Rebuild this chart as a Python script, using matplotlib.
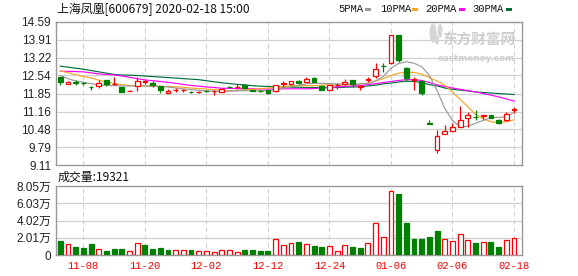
import matplotlib
matplotlib.use('Agg')
import matplotlib.pyplot as plt
from matplotlib.patches import Rectangle, Ellipse
import numpy as np

# ---------------- data ----------------
opens = [12.47, 12.22, 12.28, 12.25, 12.10, 12.12, 12.37, 12.20, 12.09, 11.95,
         12.15, 12.30, 12.26, 12.12, 11.88, 11.97, 11.99, 11.91, 11.91, 11.96,
         11.93, 11.92, 12.09, 12.10, 12.17, 11.98, 11.94, 11.98, 11.93, 12.23,
         12.22, 12.33, 12.30, 12.46, 12.15, 11.99, 12.18, 12.20, 12.37, 12.11,
         12.38, 12.52, 12.91, 13.00, 14.10, 12.84, 12.38, 12.31, 10.71, 9.67,
         10.28, 10.41, 10.57, 10.93, 10.96, 11.00, 11.01, 10.85, 10.82, 11.22]
highs = [12.47, 12.31, 12.35, 12.28, 12.15, 12.37, 12.38, 12.47, 12.10, 11.98,
         12.47, 12.37, 12.31, 12.13, 12.03, 12.05, 12.03, 11.95, 11.96, 11.99,
         11.97, 12.06, 12.12, 12.20, 12.17, 12.00, 11.98, 11.99, 12.19, 12.33,
         12.34, 12.36, 12.47, 12.48, 12.19, 12.18, 12.24, 12.41, 12.37, 12.19,
         12.48, 13.03, 13.00, 14.11, 14.11, 12.85, 12.49, 12.31, 10.85, 10.47,
         10.63, 10.71, 11.39, 11.14, 11.20, 11.01, 11.03, 10.86, 11.14, 11.33]
lows = [12.18, 12.22, 12.18, 12.18, 12.00, 12.07, 12.12, 12.19, 11.89, 11.93,
        11.96, 12.22, 12.09, 11.86, 11.87, 11.90, 11.92, 11.86, 11.88, 11.92,
        11.81, 11.90, 12.05, 12.01, 12.05, 11.93, 11.91, 11.85, 11.89, 12.08,
        12.16, 12.22, 12.29, 12.28, 11.97, 11.98, 12.04, 12.19, 12.11, 11.99,
        12.29, 12.43, 12.69, 12.99, 13.07, 12.31, 11.99, 11.81, 10.70, 9.58,
        10.28, 10.41, 10.57, 10.57, 10.85, 10.89, 10.90, 10.69, 10.78, 11.12]
closes = [12.28, 12.30, 12.27, 12.24, 12.09, 12.26, 12.22, 12.21, 11.90, 11.96,
          12.32, 12.31, 12.16, 11.99, 11.94, 11.98, 12.00, 11.90, 11.92, 11.95,
          11.96, 12.04, 12.08, 12.11, 12.07, 11.94, 11.93, 11.86, 12.18, 12.24,
          12.33, 12.27, 12.42, 12.30, 11.99, 12.18, 12.19, 12.29, 12.22, 12.12,
          12.39, 12.77, 12.90, 14.10, 13.13, 12.43, 12.39, 11.86, 10.70, 10.24,
          10.41, 10.57, 10.82, 11.01, 10.95, 11.01, 10.91, 10.73, 11.08, 11.25]
volumes = [1.63, 1.28, 0.93, 0.82, 1.28, 0.70, 0.51, 0.70, 0.70, 0.47,
           1.40, 1.17, 0.70, 0.82, 0.58, 0.58, 0.58, 0.58, 0.47, 0.47,
           0.31, 0.58, 0.58, 0.31, 0.58, 0.58, 0.47, 0.47, 1.83, 1.13,
           1.40, 1.52, 1.28, 1.05, 0.93, 1.05, 0.47, 1.13, 0.93, 0.82,
           1.40, 3.73, 2.06, 7.47, 7.12, 3.77, 1.87, 1.87, 2.10, 2.80,
           1.87, 1.63, 2.45, 1.75, 1.40, 1.52, 1.52, 0.93, 1.75, 1.93]
ma5 = [12.54, 12.42, 12.33, 12.28, 12.23, 12.18, 12.16, 12.15, 12.14, 12.14,
       12.14, 12.14, 12.14, 12.12, 12.10, 12.06, 12.03, 12.00, 11.97, 11.95,
       11.93, 11.93, 11.94, 11.95, 11.96, 11.96, 11.95, 11.96, 12.00, 12.06,
       12.10, 12.16, 12.22, 12.24, 12.24, 12.23, 12.21, 12.21, 12.21, 12.21,
       12.24, 12.33, 12.50, 12.82, 13.00, 13.07, 13.01, 12.88, 12.54, 11.96,
       11.28, 10.82, 10.57, 10.59, 10.71, 10.82, 10.92, 10.94, 10.95, 11.13]
ma10 = [12.71, 12.65, 12.57, 12.50, 12.45, 12.36, 12.29, 12.23, 12.19, 12.16,
        12.14, 12.14, 12.13, 12.12, 12.12, 12.11, 12.09, 12.06, 12.04, 12.02,
        12.00, 11.97, 11.96, 11.97, 11.99, 12.01, 12.03, 12.06, 12.08, 12.12,
        12.15, 12.15, 12.15, 12.15, 12.17, 12.18, 12.18, 12.18, 12.19, 12.21,
        12.25, 12.33, 12.42, 12.54, 12.63, 12.66, 12.66, 12.59, 12.46, 12.33,
        12.17, 11.91, 11.62, 11.34, 11.05, 10.88, 10.77, 10.73, 10.77, 10.84]
ma20 = [12.70, 12.70, 12.69, 12.68, 12.64, 12.60, 12.58, 12.56, 12.52, 12.47,
        12.42, 12.37, 12.34, 12.31, 12.28, 12.24, 12.20, 12.16, 12.13, 12.10,
        12.08, 12.05, 12.05, 12.04, 12.03, 12.03, 12.02, 12.02, 12.02, 12.03,
        12.03, 12.03, 12.03, 12.04, 12.06, 12.08, 12.10, 12.12, 12.14, 12.15,
        12.19, 12.23, 12.27, 12.31, 12.35, 12.38, 12.38, 12.35, 12.27, 12.18,
        12.12, 12.06, 12.01, 11.96, 11.91, 11.85, 11.79, 11.72, 11.64, 11.56]
ma30 = [12.90, 12.86, 12.82, 12.78, 12.73, 12.68, 12.63, 12.58, 12.56, 12.55,
        12.54, 12.52, 12.50, 12.48, 12.46, 12.44, 12.42, 12.40, 12.38, 12.34,
        12.30, 12.26, 12.23, 12.20, 12.18, 12.15, 12.13, 12.12, 12.11, 12.10,
        12.09, 12.09, 12.08, 12.08, 12.08, 12.08, 12.08, 12.09, 12.10, 12.11,
        12.14, 12.17, 12.22, 12.25, 12.29, 12.32, 12.31, 12.27, 12.19, 12.14,
        12.06, 12.01, 11.98, 11.95, 11.91, 11.89, 11.87, 11.85, 11.83, 11.81]
date_tick_idx = [3, 11, 19, 27, 35, 43, 51, 59]
date_labels = ['11-08', '11-20', '12-02', '12-12', '12-24', '01-06', '02-06', '02-18']
price_ticks = [9.11, 9.79, 10.48, 11.16, 11.85, 12.54, 13.22, 13.91, 14.59]
vol_ticks = [0, 2.01, 4.02, 6.03, 8.05]
vol_tick_labels = ['0', '2.01万', '4.02万', '6.03万', '8.05万']
title_text = '上海凤凰[600679] 2020-02-18 15:00'
vol_title = '成交量:19321'
legend_names = ['5PMA', '10PMA', '20PMA', '30PMA']

# ---------------- style ----------------
RED = '#ff0000'
GREEN = '#008000'
MA_COLORS = ['#999999', '#f5a623', '#ff00ff', '#00703a']
FRAME = '#999999'
GRID = '#d0d0d0'
CJK = ['Noto Sans CJK SC', 'DejaVu Sans']
NUMF = ['Liberation Sans', 'Noto Sans CJK SC']

W, H = 578, 276
fig = plt.figure(figsize=(W / 100, H / 100), dpi=100)
fig.patch.set_facecolor('white')

def fx(px):
    return px / W

def fy(py):
    return 1 - py / H

L, R = 56, 522
ax = fig.add_axes([fx(L), fy(165), fx(R - L), (165 - 22) / H])
axv = fig.add_axes([fx(L), fy(255), fx(R - L), (255 - 186) / H])

n = len(closes)
x = np.arange(n)
xlim = (-0.56, 60.04)

for a in (ax, axv):
    a.set_xlim(*xlim)
    for s in a.spines.values():
        s.set_color(FRAME)
        s.set_linewidth(1.0)
    a.tick_params(length=0)
    for xi in date_tick_idx:
        a.axvline(xi, color=GRID, lw=0.8, ls=(0, (4, 3)), zorder=0)

# main price axes
ax.set_ylim(price_ticks[0], price_ticks[-1])
ax.set_yticks(price_ticks)
ax.set_yticklabels([f'{t:.2f}' for t in price_ticks], family=NUMF, fontsize=8.5, color='#222222')
ax.set_xticks([])
for t in price_ticks[1:-1]:
    ax.axhline(t, color=GRID, lw=0.9, zorder=0)

# watermark
ax.text(0.985, 0.875, '东方财富网', transform=ax.transAxes, ha='right', va='center',
        family=CJK, fontsize=10.5, fontweight='bold', color='#cfcfcf', zorder=1)
ax.text(0.985, 0.745, 'eastmoney.com', transform=ax.transAxes, ha='right', va='center',
        family=['DejaVu Sans'], fontsize=6.3, fontweight='bold', color='#cfcfcf', zorder=1)
for cx, cy, w, h, ang in [(433, 33, 7, 20, -35), (440, 31, 5, 14, -35), (437, 40, 4, 9, -10)]:
    fig.patches.append(Ellipse((fx(cx), fy(cy)), fx(w), h / H, angle=0,
                               facecolor='#d6d6d6', edgecolor='none',
                               transform=fig.transFigure, figure=fig, zorder=0))

# moving averages
for ma, c in zip([ma30, ma20, ma10, ma5], MA_COLORS[::-1]):
    ax.plot(x, ma, color=c, lw=0.85, zorder=2)

# candles
bw = 0.62
for i in range(n):
    o, h, l, c = opens[i], highs[i], lows[i], closes[i]
    up = c >= o
    col = RED if up else GREEN
    ax.vlines(i, l, h, color=col, lw=0.9, zorder=3)
    bot = min(o, c)
    ht = max(abs(c - o), 0.004)
    ax.add_patch(Rectangle((i - bw / 2, bot), bw, ht,
                           facecolor='white' if up else GREEN,
                           edgecolor=col, lw=0.9, zorder=4))

# volume axes
axv.set_ylim(0, vol_ticks[-1])
axv.set_yticks(vol_ticks)
axv.set_yticklabels(vol_tick_labels, family=NUMF, fontsize=8.5, color='#222222')
for t in vol_ticks[1:-1]:
    axv.axhline(t, color=GRID, lw=0.9, zorder=0)
axv.set_xticks(date_tick_idx)
axv.set_xticklabels(date_labels, family=['Liberation Mono'], fontsize=7.6, color=RED)
axv.tick_params(axis='x', pad=4)

vbw = 0.64
for i in range(n):
    prev = closes[i - 1] if i > 0 else opens[i]
    up = closes[i] >= prev
    if up:
        axv.add_patch(Rectangle((i - vbw / 2, 0), vbw, volumes[i], facecolor='white',
                                edgecolor=RED, lw=0.9, zorder=3))
    else:
        axv.add_patch(Rectangle((i - vbw / 2, 0), vbw, volumes[i], facecolor=GREEN,
                                edgecolor=GREEN, lw=0.9, zorder=3))

# titles
fig.text(fx(57), fy(9.5), title_text, family=CJK, fontsize=8.6, color='#111111',
         ha='left', va='center')
fig.text(fx(58), fy(177), vol_title, family=CJK, fontsize=8.6, color='#111111',
         ha='left', va='center')

# legend
leg_x = [338, 380, 425, 472]
mark_x = [365, 412, 459, 506]
for name, lx, mx, c in zip(legend_names, leg_x, mark_x, MA_COLORS):
    fig.text(fx(lx), fy(9.5), name, family=['Liberation Mono'], fontsize=7.6,
             color='#111111', ha='left', va='center')
    fig.patches.append(Rectangle((fx(mx), fy(11)), fx(6), 3.5 / H, facecolor=c,
                                 edgecolor='none', transform=fig.transFigure, figure=fig))

fig.savefig('out.png', dpi=100, facecolor='white')
